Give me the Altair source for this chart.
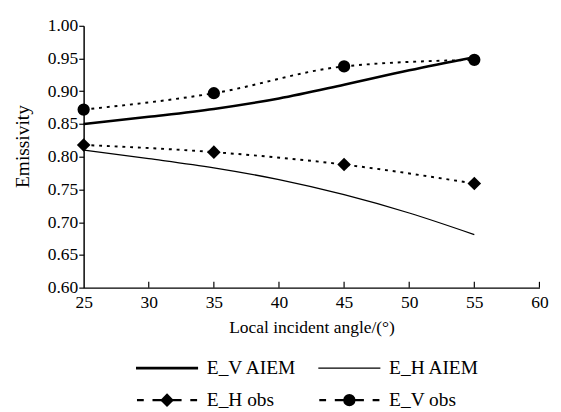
import altair as alt
import pandas as pd

FONT = "Liberation Serif, Times New Roman, serif"

# ---- data ----
angles_model = [25, 30, 35, 40, 45, 50, 55]
ev_aiem = [0.850, 0.861, 0.873, 0.889, 0.910, 0.932, 0.952]
eh_aiem = [0.810, 0.797, 0.783, 0.765, 0.742, 0.714, 0.681]

angles_obs = [25, 35, 45, 55]
eh_obs = [0.818, 0.807, 0.788, 0.759]
ev_obs = [0.872, 0.897, 0.938, 0.948]

x_ticks = [25, 30, 35, 40, 45, 50, 55, 60]
y_ticks = [0.60, 0.65, 0.70, 0.75, 0.80, 0.85, 0.90, 0.95, 1.00]

legend_labels = ["E_V AIEM", "E_H AIEM", "E_H obs", "E_V obs"]
legend_cols = [0, 1, 0, 1]
legend_rows = [0, 0, 1, 1]
legend_kinds = ["thick", "thin", "diamond", "circle"]

W, H = 470, 270

ev_df = pd.DataFrame({"angle": angles_model, "value": ev_aiem})
eh_df = pd.DataFrame({"angle": angles_model, "value": eh_aiem})
evo_df = pd.DataFrame({"angle": angles_obs, "value": ev_obs})
eho_df = pd.DataFrame({"angle": angles_obs, "value": eh_obs})
tick_df = pd.DataFrame({"angle": x_ticks[1:]})

xscale = alt.Scale(domain=[25, 60], nice=False, zero=False)
yscale = alt.Scale(domain=[0.6, 1.0], nice=False, zero=False)

X = alt.X("angle:Q", scale=xscale, axis=alt.Axis(
    values=x_ticks, ticks=False, grid=False, domainColor="black", domainWidth=1.5,
    labelFont=FONT, labelFontSize=18, labelColor="black", labelPadding=7,
    labelOverlap=False, labelFlush=False,
    title="Local incident angle/(°)", titleFont=FONT, titleFontSize=18,
    titleFontWeight="normal", titleColor="black", titlePadding=7))
Y = alt.Y("value:Q", scale=yscale, axis=alt.Axis(
    values=y_ticks, format=".2f", grid=False, domainColor="black", domainWidth=1.5,
    tickColor="black", tickSize=5, tickWidth=1.2,
    labelFont=FONT, labelFontSize=18, labelColor="black", labelPadding=1,
    labelOverlap=False, labelFlush=False,
    title="Emissivity", titleFont=FONT, titleFontSize=20, titleY=124,
    titleFontWeight="normal", titleColor="black", titlePadding=15))

line_ev = alt.Chart(ev_df).mark_line(color="black", strokeWidth=2.6, interpolate="monotone").encode(x=X, y=Y)
line_eh = alt.Chart(eh_df).mark_line(color="black", strokeWidth=1.3, interpolate="monotone").encode(x=X, y=Y)
dot_evo = alt.Chart(evo_df).mark_line(color="black", strokeWidth=2, strokeDash=[3, 5], interpolate="monotone").encode(x=X, y=Y)
dot_eho = alt.Chart(eho_df).mark_line(color="black", strokeWidth=2, strokeDash=[3, 5], interpolate="monotone").encode(x=X, y=Y)
pt_evo = alt.Chart(evo_df).mark_point(shape="circle", filled=True, color="black", size=160, opacity=1).encode(x=X, y=Y)
pt_eho = alt.Chart(eho_df).mark_point(shape="diamond", filled=True, color="black", size=196, opacity=1).encode(x=X, y=Y)
xticks_in = alt.Chart(tick_df).mark_rule(color="black", strokeWidth=1.2).encode(
    x=X, y=alt.value(H), y2=alt.value(H - 6))

main = alt.layer(line_ev, line_eh, dot_evo, dot_eho, pt_evo, pt_eho, xticks_in).properties(width=W, height=H)

# ---- legend panel ----
leg_df = pd.DataFrame({"label": legend_labels, "col": legend_cols, "row": legend_rows, "kind": legend_kinds})
LX = alt.X("col:O", scale=alt.Scale(type="point", domain=[0, 1], range=[86, 274], padding=0), axis=None)
LY = alt.Y("row:O", scale=alt.Scale(type="point", domain=[0, 1], range=[13, 46], padding=0), axis=None)
base = alt.Chart(leg_df)
leg_thick = base.transform_filter("datum.kind == 'thick'").mark_rule(color="black", strokeWidth=2.6, xOffset=-32, x2Offset=32).encode(x=LX, x2="col:O", y=LY)
leg_thin = base.transform_filter("datum.kind == 'thin'").mark_rule(color="black", strokeWidth=1.3, xOffset=-32, x2Offset=32).encode(x=LX, x2="col:O", y=LY)
leg_dash = base.transform_filter("datum.kind == 'diamond' || datum.kind == 'circle'").mark_rule(
    color="black", strokeWidth=2.2, strokeDash=[7, 9, 30, 9, 7, 100], xOffset=-31, x2Offset=31).encode(x=LX, x2="col:O", y=LY)
leg_dia = base.transform_filter("datum.kind == 'diamond'").mark_point(shape="diamond", filled=True, color="black", size=196, opacity=1).encode(x=LX, y=LY)
leg_cir = base.transform_filter("datum.kind == 'circle'").mark_point(shape="circle", filled=True, color="black", size=160, opacity=1).encode(x=LX, y=LY)
leg_txt = base.mark_text(align="left", baseline="middle", dx=41, font=FONT, fontSize=20, color="black").encode(x=LX, y=LY, text="label:N")

legend = alt.layer(leg_thick, leg_thin, leg_dash, leg_dia, leg_cir, leg_txt).properties(width=W, height=55)

chart = alt.vconcat(main, legend, spacing=20).properties(
    padding={"left": 5, "top": 3, "right": 5, "bottom": 0}
).configure_view(stroke=None).configure_concat(spacing=20)

chart.save("out.html", embed_options={"renderer": "svg", "actions": False})
